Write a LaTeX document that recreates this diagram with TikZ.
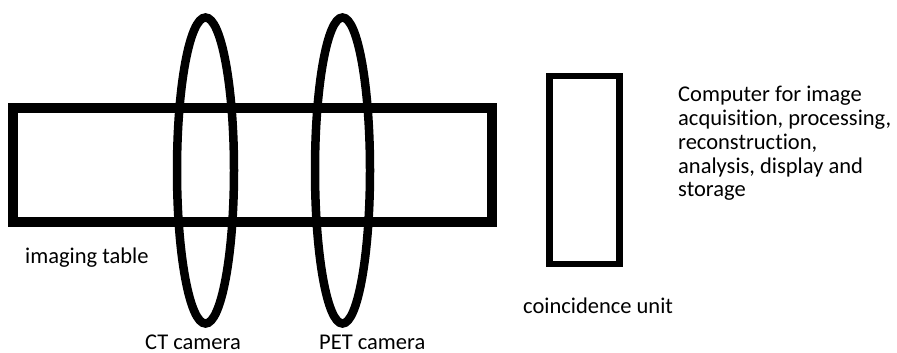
\documentclass[tikz,border=0pt]{standalone}
\usepackage{fontspec}
\setmainfont{Carlito}[Ligatures=NoCommon]
\usetikzlibrary{shapes.geometric}
\begin{document}
\begin{tikzpicture}[x=1pt,y=-1pt,
  tablebox/.style={draw=black, line width=10pt, rectangle, inner sep=0pt, minimum width=478.4pt, minimum height=114.6pt},
  ring/.style={draw=black, line width=8.5pt, ellipse, inner sep=0pt, minimum width=57pt, minimum height=306pt},
  unitbox/.style={draw=black, line width=6.8pt, rectangle, inner sep=0pt, minimum width=70.4pt, minimum height=188pt},
  lbl/.style={inner sep=0pt, anchor=base west, font=\fontsize{22.5}{23.7}\selectfont},
  blk/.style={inner sep=0pt, anchor=base west, align=left, font=\fontsize{22.5}{23.7}\selectfont}]
\useasboundingbox[fill=white] (0,0) rectangle (897,353);
\node[tablebox] (table) at (252.5,165) {};
\node[ring] (ct) at (205.5,170.5) {};
\node[ring, minimum width=55pt] (pet) at (342.5,170.5) {};
\node[unitbox] (unit) at (584.5,170) {};
\node[lbl] (tablelbl) at (25,263) {imaging table};
\node[lbl] (ctlbl) at (145,349) {CT camera};
\node[lbl] (petlbl) at (319,349) {PET camera};
\node[lbl] (unitlbl) at (523,313) {coincidence unit};
\node[blk] (comp) at (678,196.7) {Computer for image\\acquisition, processing,\\reconstruction,\\analysis, display and\\storage};
\end{tikzpicture}
\end{document}
